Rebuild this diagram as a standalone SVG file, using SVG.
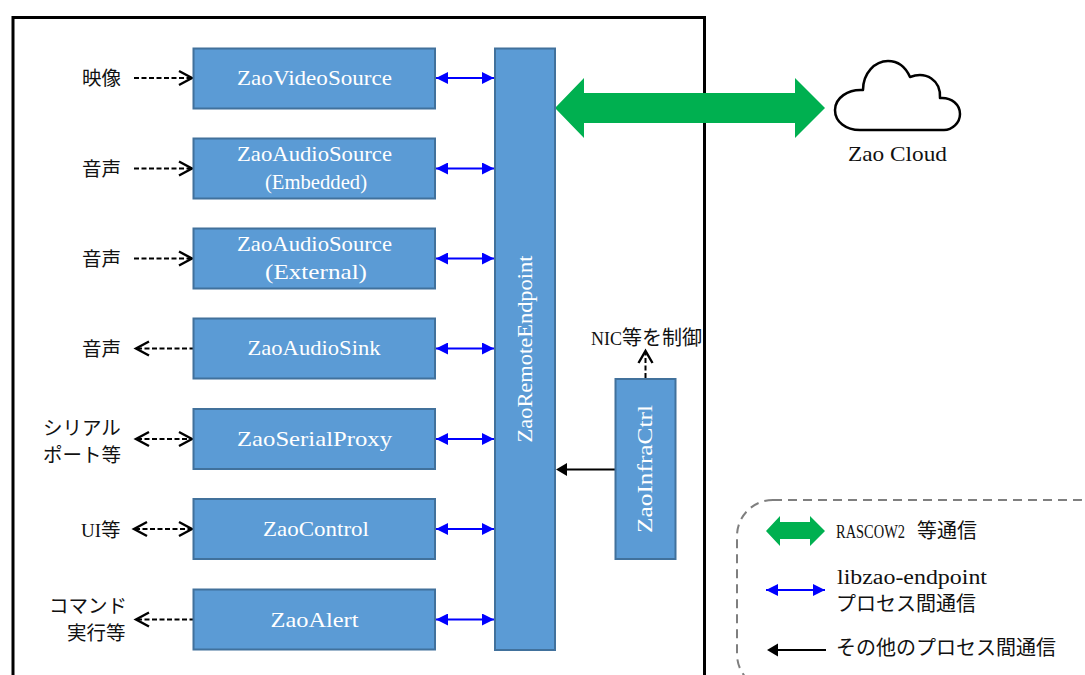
<svg xmlns="http://www.w3.org/2000/svg" width="1085" height="675" viewBox="0 0 1085 675">
<style>
text{font-family:"Liberation Serif","Noto Sans CJK JP",serif;font-size:22px;fill:#111}
.j{font-family:"Noto Sans CJK JP",sans-serif;font-size:19.500px}
.w{fill:#fff;text-anchor:middle}
.s{font-size:20px}
.b{fill:#5b9bd5;stroke:#41719c;stroke-width:2}
.blue{stroke:#0000ff;stroke-width:2;fill:none;marker-start:url(#bs);marker-end:url(#be)}
.dash{stroke:#000;stroke-width:2;fill:none;stroke-dasharray:5 2.500}
.open{stroke:#000;stroke-width:2.400;fill:none}
</style>
<defs>
<marker id="be" markerUnits="userSpaceOnUse" markerWidth="12" markerHeight="12" refX="12" refY="6" orient="auto"><path d="M0 0L12 6L0 12Z" fill="#0000ff"/></marker>
<marker id="bs" markerUnits="userSpaceOnUse" markerWidth="12" markerHeight="12" refX="0" refY="6" orient="auto"><path d="M12 0L0 6L12 12Z" fill="#0000ff"/></marker>
</defs>
<rect id="frame" x="13" y="17.500" width="691.500" height="700" fill="none" stroke="#000" stroke-width="3"/>
<g id="connectors">
<path d="M555 108L584 78V93H795V78L825 108L795 138V123H584V138Z" fill="#00b050"/>
<path class="blue" d="M436 78H494"/><path class="blue" d="M436 168.500H494"/><path class="blue" d="M436 258.500H494"/><path class="blue" d="M436 348.500H494"/><path class="blue" d="M436 439H494"/><path class="blue" d="M436 529H494"/><path class="blue" d="M436 619.500H494"/>
<path class="dash" d="M134 78H191"/><path class="open" d="M179 71L192 78L179 85"/>
<path class="dash" d="M134 168.500H191"/><path class="open" d="M179 161.500L192 168.500L179 175.500"/>
<path class="dash" d="M134 258.500H191"/><path class="open" d="M179 251.500L192 258.500L179 265.500"/>
<path class="dash" d="M137 348.500H193"/><path class="open" d="M149 341.500L136 348.500L149 355.500"/>
<path class="dash" d="M137 439H191"/><path class="open" d="M149 432L136 439L149 446"/><path class="open" d="M179 432L192 439L179 446"/>
<path class="dash" d="M135 529H191"/><path class="open" d="M147 522L134 529L147 536"/><path class="open" d="M179 522L192 529L179 536"/>
<path class="dash" d="M137 619.500H193"/><path class="open" d="M149 612.500L136 619.500L149 626.500"/>
<path d="M615 469.500H566" stroke="#000" stroke-width="2" fill="none"/><path d="M567 463L556 469.500L567 476Z" fill="#000"/>
<path class="dash" d="M645.500 378V353"/><path class="open" d="M638.500 363L645.500 351L652.500 363"/>
</g>
<g id="zao-video-source"><rect class="b" x="193.500" y="48.500" width="241.500" height="60"/><text class="w" x="314.500" y="85" textLength="155" lengthAdjust="spacingAndGlyphs">ZaoVideoSource</text></g>
<g id="zao-audio-source-embedded"><rect class="b" x="193.500" y="138.500" width="241.500" height="60"/><text class="w" x="314.500" y="161" textLength="155" lengthAdjust="spacingAndGlyphs">ZaoAudioSource</text><text class="w" x="316" y="189" textLength="102" lengthAdjust="spacingAndGlyphs">(Embedded)</text></g>
<g id="zao-audio-source-external"><rect class="b" x="193.500" y="228.500" width="241.500" height="60"/><text class="w" x="314.500" y="251" textLength="155" lengthAdjust="spacingAndGlyphs">ZaoAudioSource</text><text class="w" x="316" y="279" textLength="102" lengthAdjust="spacingAndGlyphs">(External)</text></g>
<g id="zao-audio-sink"><rect class="b" x="193.500" y="318.500" width="241.500" height="60"/><text class="w" x="314" y="355" textLength="133" lengthAdjust="spacingAndGlyphs">ZaoAudioSink</text></g>
<g id="zao-serial-proxy"><rect class="b" x="193.500" y="409" width="241.500" height="60"/><text class="w" x="314.500" y="446" textLength="155" lengthAdjust="spacingAndGlyphs">ZaoSerialProxy</text></g>
<g id="zao-control"><rect class="b" x="193.500" y="499" width="241.500" height="60"/><text class="w" x="316" y="536" textLength="106" lengthAdjust="spacingAndGlyphs">ZaoControl</text></g>
<g id="zao-alert"><rect class="b" x="193.500" y="589.500" width="241.500" height="60"/><text class="w" x="314.500" y="627" textLength="88" lengthAdjust="spacingAndGlyphs">ZaoAlert</text></g>
<g id="zao-remote-endpoint"><rect class="b" x="495" y="48.500" width="60" height="601.500"/><text class="w" transform="translate(532 349) rotate(-90)" textLength="187" lengthAdjust="spacingAndGlyphs">ZaoRemoteEndpoint</text></g>
<g id="zao-infra-ctrl"><rect class="b" x="615.500" y="379" width="60" height="180"/><text class="w" transform="translate(652 469) rotate(-90)" textLength="128" lengthAdjust="spacingAndGlyphs">ZaoInfraCtrl</text></g>
<g id="zao-cloud"><path d="M863 90C863 73 875 61 888 61C899 61 906 68 910 77C926 71 941 80 940 98C952 97 960 105 960 114C960 123 952 130 944 130H860C846 130 835 122 835 110C835 98 848 89 863 90Z" fill="#fff" stroke="#000" stroke-width="2.500" stroke-linejoin="round"/><text x="848" y="161" textLength="99" lengthAdjust="spacingAndGlyphs">Zao Cloud</text></g>
<text class="j" x="82" y="85">映像</text>
<text class="j" x="82" y="176">音声</text>
<text class="j" x="82" y="266">音声</text>
<text class="j" x="82" y="356">音声</text>
<text class="j" x="43" y="435">シリアル</text>
<text class="j" x="43" y="462">ポート等</text>
<text x="81" y="537" style="font-size:19px">UI<tspan class="j">等</tspan></text>
<text class="j" x="49" y="613">コマンド</text>
<text class="j" x="67" y="640">実行等</text>
<text x="591" y="345" style="font-size:18px">NIC<tspan class="j" style="font-size:20px">等を制御</tspan></text>
<g id="legend">
<rect x="737" y="500" width="378" height="190" rx="36" fill="none" stroke="#7f7f7f" stroke-width="2" stroke-dasharray="9 6"/>
<path d="M766 531L780 516V522H810V516L825 531L810 546V539H780V546Z" fill="#00b050"/>
<path class="blue" d="M766 590H825"/>
<path d="M826 650H778" stroke="#000" stroke-width="2" fill="none"/><path d="M778 643.500L767 650L778 656.500Z" fill="#000"/>
<text x="836" y="538" style="font-size:18px"><tspan textLength="69" lengthAdjust="spacingAndGlyphs">RASCOW2</tspan><tspan class="j" x="917" style="font-size:20px">等通信</tspan></text>
<text class="s" x="837" y="584" textLength="150" lengthAdjust="spacingAndGlyphs">libzao-endpoint</text>
<text class="j" x="836" y="611" style="font-size:20px">プロセス間通信</text>
<text class="j" x="836" y="655" style="font-size:20px">その他のプロセス間通信</text>
</g>
</svg>
